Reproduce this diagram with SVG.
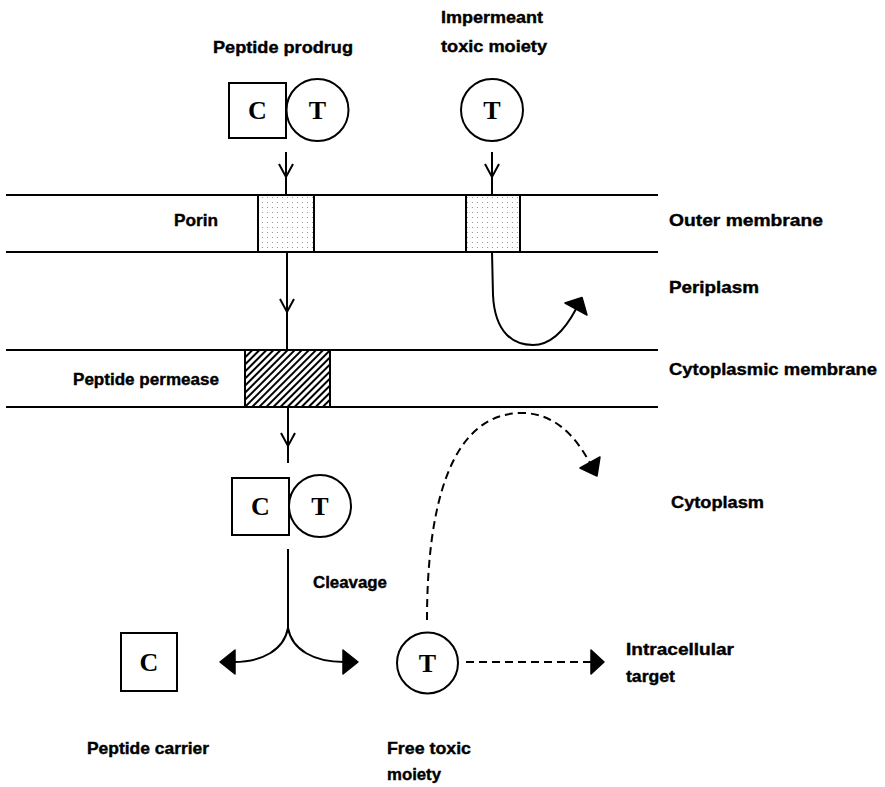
<svg xmlns="http://www.w3.org/2000/svg" width="885" height="787" viewBox="0 0 885 787">
<style>
.lbl{font-family:"Liberation Sans",Arial,sans-serif;font-weight:bold;font-size:17px;fill:#000;stroke:#000;stroke-width:0.4}
.sym{font-family:"Liberation Serif","Times New Roman",serif;font-weight:bold;font-size:26px;fill:#000;text-anchor:middle}
.ln{fill:none;stroke:#000;stroke-width:2}
.dash{fill:none;stroke:#000;stroke-width:2;stroke-dasharray:8 5}
.box{fill:#fff;stroke:#000;stroke-width:2}
.ah{fill:#000;stroke:#000;stroke-width:1.5;stroke-linejoin:round}
</style>
<defs>
<pattern id="dots" patternUnits="userSpaceOnUse" width="5" height="5">
<circle cx="2.5" cy="2.5" r="0.6" fill="#888"/>
</pattern>
<pattern id="hatch" patternUnits="userSpaceOnUse" width="5" height="5" patternTransform="rotate(45)">
<rect x="0" y="0" width="2" height="5" fill="#000"/>
</pattern>
<path id="chev" d="M-7,-13 L0,0 L7,-13" fill="none" stroke="#000" stroke-width="2"/>
</defs>
<rect width="885" height="787" fill="#fff"/>

<g id="membranes">
<line class="ln" x1="6" y1="195" x2="658" y2="195"/>
<line class="ln" x1="6" y1="252" x2="658" y2="252"/>
<line class="ln" x1="6" y1="350" x2="658" y2="350"/>
<line class="ln" x1="6" y1="407" x2="658" y2="407"/>
</g>

<g id="porin1">
<rect x="258" y="195" width="56" height="57" fill="url(#dots)" stroke="#000" stroke-width="2"/>
</g>
<g id="porin2">
<rect x="466" y="195" width="54" height="57" fill="url(#dots)" stroke="#000" stroke-width="2"/>
</g>
<g id="permease">
<rect x="245" y="350" width="85" height="57" fill="url(#hatch)" stroke="#000" stroke-width="2"/>
</g>

<g id="connectors">
<line class="ln" x1="286" y1="152" x2="286" y2="195"/>
<use href="#chev" x="286" y="177"/>
<line class="ln" x1="492" y1="152" x2="492" y2="195"/>
<use href="#chev" x="492" y="177"/>
<line class="ln" x1="287" y1="252" x2="287" y2="350"/>
<use href="#chev" x="287" y="312"/>
<line class="ln" x1="288" y1="407" x2="288" y2="463"/>
<use href="#chev" x="288" y="446"/>

<path class="ln" d="M492,252 L493,295 C495,335 515,345 533,345 C552,345 566,328 576,309"/>
<path class="ah" d="M582,297.5 L587,315 L565,303 z"/>

<path class="ln" d="M288,549 L288,628"/>
<path class="ln" d="M288,628 C284,650 262,662 234,662"/>
<path class="ah" d="M220,662 L235,650 L235,674 z"/>
<path class="ln" d="M288,628 C292,650 314,662 344,662"/>
<path class="ah" d="M358,662 L343,650 L343,674 z"/>

<path class="dash" d="M427,620 C427,520 445,413 522,413 C560,413 580,445 590,463"/>
<path class="ah" d="M597,476 L580,468 L600,457 z"/>

<path class="dash" d="M466,662 L591,662"/>
<path class="ah" d="M604,662 L591,650 L591,674 z"/>
</g>

<g id="prodrug">
<rect class="box" x="229" y="83" width="57" height="55"/>
<circle class="box" cx="317.5" cy="110" r="31"/>
<text class="sym" x="257.5" y="119">C</text>
<text class="sym" x="317.5" y="119">T</text>
<text class="lbl" x="213" y="53" textLength="140" lengthAdjust="spacingAndGlyphs">Peptide prodrug</text>
</g>

<g id="impermeant">
<circle class="box" cx="492" cy="110" r="31"/>
<text class="sym" x="492" y="119">T</text>
<text class="lbl" x="441" y="23" textLength="102" lengthAdjust="spacingAndGlyphs">Impermeant</text>
<text class="lbl" x="441" y="52" textLength="106" lengthAdjust="spacingAndGlyphs">toxic moiety</text>
</g>

<g id="prodrug-inside">
<rect class="box" x="232" y="478" width="57" height="57"/>
<circle class="box" cx="320" cy="506" r="31"/>
<text class="sym" x="260.5" y="515">C</text>
<text class="sym" x="320" y="515">T</text>
</g>

<g id="carrier">
<rect class="box" x="121" y="633" width="56" height="58"/>
<text class="sym" x="149" y="671">C</text>
<text class="lbl" x="87" y="754" textLength="122" lengthAdjust="spacingAndGlyphs">Peptide carrier</text>
</g>

<g id="free-toxic">
<circle class="box" cx="427.5" cy="663" r="30.5"/>
<text class="sym" x="427.5" y="672">T</text>
<text class="lbl" x="387" y="754" textLength="84" lengthAdjust="spacingAndGlyphs">Free toxic</text>
<text class="lbl" x="387" y="780" textLength="54" lengthAdjust="spacingAndGlyphs">moiety</text>
</g>

<g id="labels">
<text class="lbl" x="174" y="226" textLength="44" lengthAdjust="spacingAndGlyphs">Porin</text>
<text class="lbl" x="73" y="385" textLength="146" lengthAdjust="spacingAndGlyphs">Peptide permease</text>
<text class="lbl" x="669" y="226" textLength="154" lengthAdjust="spacingAndGlyphs">Outer membrane</text>
<text class="lbl" x="669" y="293" textLength="90" lengthAdjust="spacingAndGlyphs">Periplasm</text>
<text class="lbl" x="669" y="375" textLength="208" lengthAdjust="spacingAndGlyphs">Cytoplasmic membrane</text>
<text class="lbl" x="671" y="508" textLength="93" lengthAdjust="spacingAndGlyphs">Cytoplasm</text>
<text class="lbl" x="313" y="588" textLength="74" lengthAdjust="spacingAndGlyphs">Cleavage</text>
<text class="lbl" x="626" y="655" textLength="108" lengthAdjust="spacingAndGlyphs">Intracellular</text>
<text class="lbl" x="626" y="682" textLength="49" lengthAdjust="spacingAndGlyphs">target</text>
</g>
</svg>
